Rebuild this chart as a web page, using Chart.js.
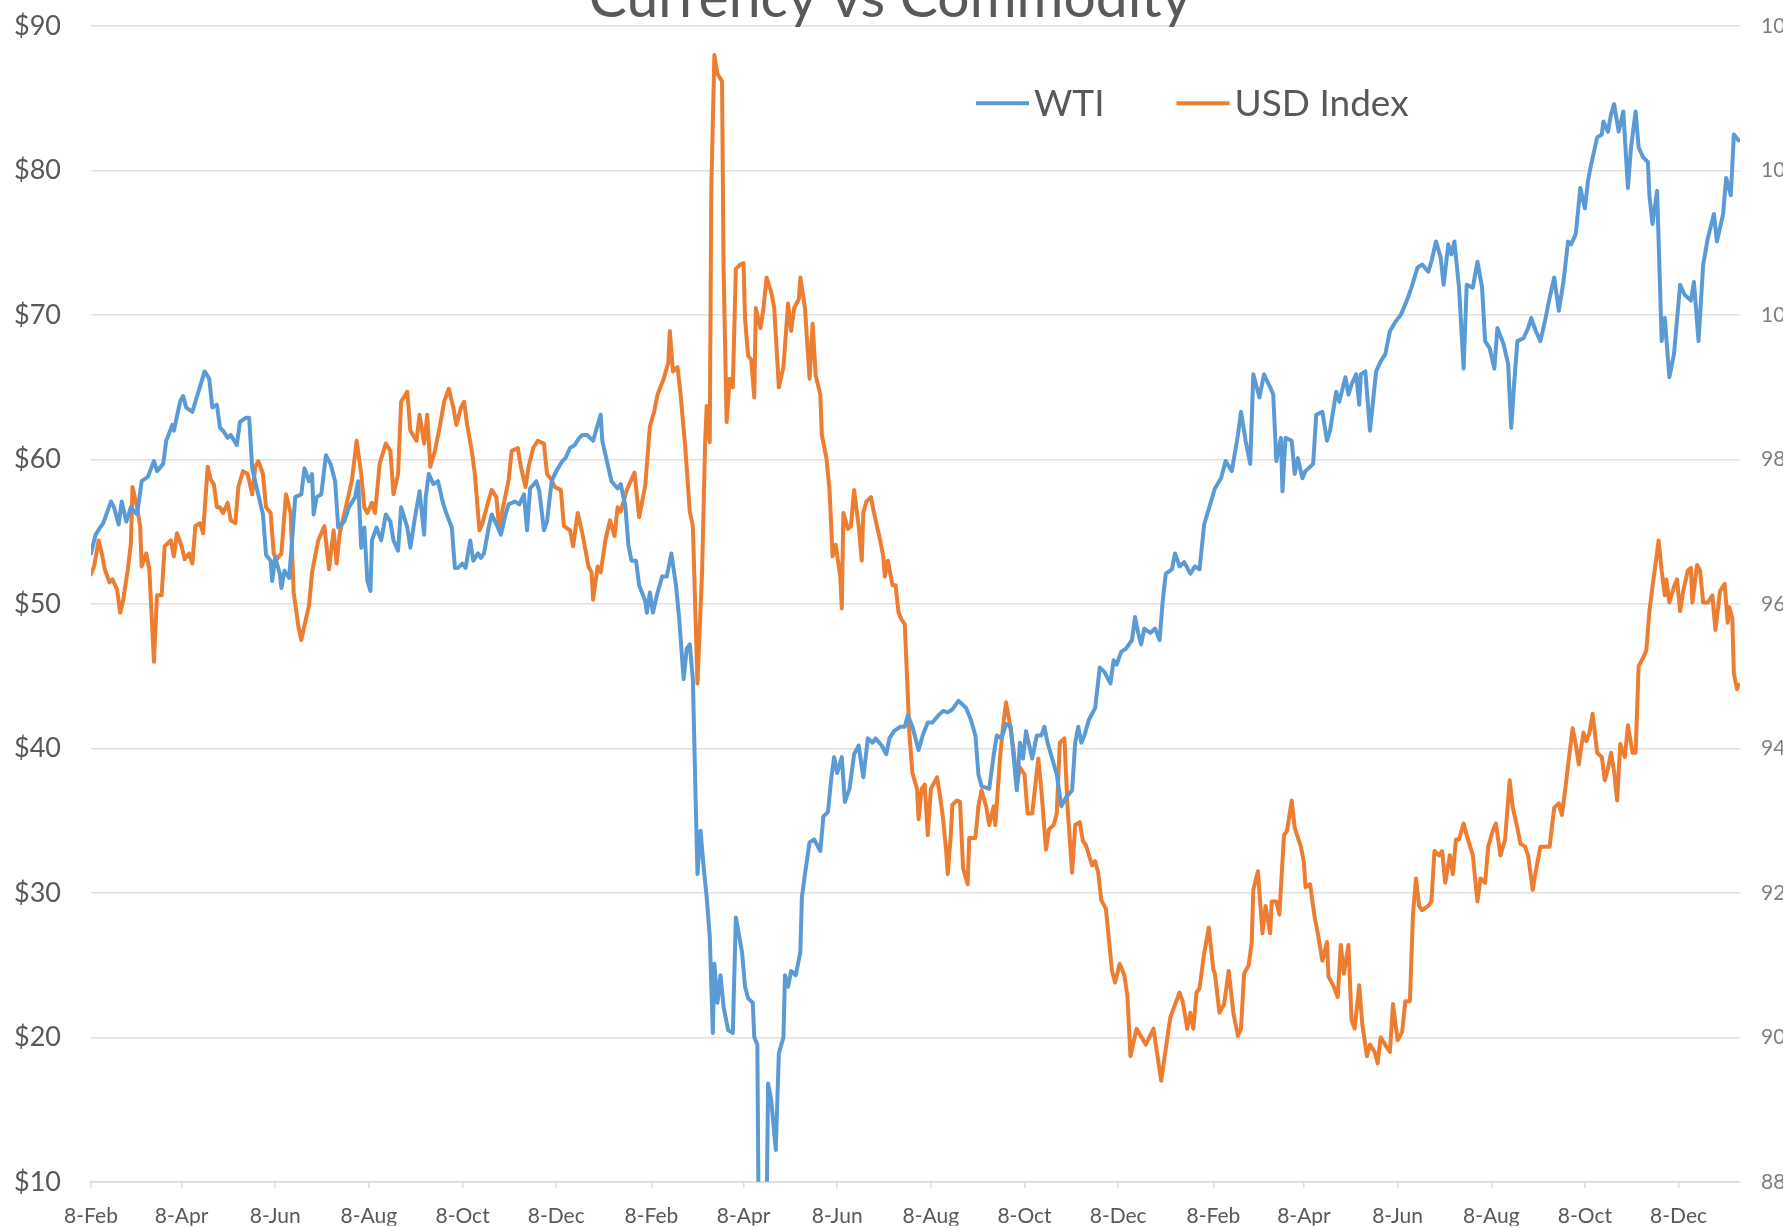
<!DOCTYPE html>
<html>
<head>
<meta charset="utf-8">
<script src="https://cdn.jsdelivr.net/npm/chart.js@4.4.1/dist/chart.umd.min.js"></script>
<style>
html,body{margin:0;padding:0;overflow:hidden;background:#ffffff;width:1783px;height:1228px;}
#wrap{position:absolute;left:-15px;top:-20px;width:1810px;height:1248px;}
canvas{display:block;}
</style>
</head>
<body>
<div id="wrap"><canvas id="c" width="1810" height="1248"></canvas></div>
<script>
// ---- axis categories (days since start date) ----
const startDate = '2019-02-08';
const tickDates = ['2019-02-08','2019-04-08','2019-06-08','2019-08-08','2019-10-08','2019-12-08',
                   '2020-02-08','2020-04-08','2020-06-08','2020-08-08','2020-10-08','2020-12-08',
                   '2021-02-08','2021-04-08','2021-06-08','2021-08-08','2021-10-08','2021-12-08'];
const tickLabels = ['8-Feb','8-Apr','8-Jun','8-Aug','8-Oct','8-Dec',
                    '8-Feb','8-Apr','8-Jun','8-Aug','8-Oct','8-Dec',
                    '8-Feb','8-Apr','8-Jun','8-Aug','8-Oct','8-Dec'];
const lastDay = 1074;

// ---- WTI ($/bbl), left axis ----
const wtiDays = [
0,3,6,8,13,15,18,20,23,26,
30,33,37,41,43,47,49,53,54,58,
60,62,66,68,72,74,77,79,82,84,
86,89,91,95,97,101,103,105,108,112,
114,117,118,120,123,124,126,129,131,133,
137,139,142,144,145,147,150,153,156,159,
161,165,168,172,174,176,178,180,182,183,
186,189,192,195,197,200,202,206,208,211,
214,217,218,220,223,226,229,231,235,237,
239,242,244,247,249,252,254,256,259,261,
265,267,270,272,276,279,282,284,286,290,
292,295,297,300,303,307,309,312,315,318,
320,323,325,327,330,332,333,336,339,343,
345,348,350,352,355,357,361,362,364,366,
369,372,375,378,381,383,386,388,390,392,
394,395,397,399,401,403,405,406,408,410,
412,415,418,420,424,426,428,431,432,434,
436,438,441,443,446,448,451,452,454,456,
459,462,463,465,468,471,475,477,480,482,
484,486,489,491,494,497,500,503,506,509,
511,515,518,520,523,527,530,532,535,539,
542,545,548,552,555,558,561,565,570,573,
576,578,580,585,588,590,593,596,599,603,
605,607,609,613,616,619,621,623,626,629,
632,635,639,641,643,645,647,650,654,657,
660,664,666,668,671,674,678,680,682,684,
686,690,693,696,698,700,704,706,709,712,
716,719,722,725,732,736,739,743,747,749,
752,755,757,761,764,768,770,772,775,776,
778,782,784,786,789,791,796,798,802,805,
807,811,813,817,819,821,824,826,827,830,
833,837,840,843,846,850,853,857,860,864,
867,871,873,876,879,881,884,886,888,891,
894,896,900,903,906,908,911,914,916,920,
923,925,927,929,933,936,938,941,944,947,
950,953,956,959,962,964,967,970,973,975,
977,981,984,985,988,990,992,995,998,1001,
1003,1006,1008,1011,1014,1015,1017,1020,1023,1025,
1028,1031,1035,1038,1042,1044,1047,1050,1053,1057,
1059,1063,1065,1068,1070,1073];
const wtiPrices = [
53.5,54.8,55.3,55.6,57.1,56.7,55.5,57.1,55.7,56.7,
56.2,58.5,58.8,59.9,59.2,59.7,61.3,62.4,62.0,64.0,
64.4,63.6,63.3,64.0,65.4,66.1,65.6,63.6,63.8,62.2,
62.0,61.5,61.7,61.0,62.6,62.9,62.9,59.4,58.0,56.2,
53.4,53.0,51.6,53.2,52.1,51.1,52.3,51.8,54.4,57.4,
57.6,59.4,58.5,59.0,56.2,57.4,57.6,60.3,59.7,58.5,
55.3,55.7,56.7,57.4,58.5,53.9,55.3,51.6,50.9,54.4,
55.3,54.4,56.2,55.7,54.4,53.7,56.7,55.3,53.9,56.0,
57.8,54.8,57.4,59.0,58.3,58.5,57.1,56.4,55.3,52.5,
52.5,52.8,52.5,54.4,53.0,53.5,53.2,53.5,55.3,56.2,
55.3,54.8,56.2,56.9,57.1,56.9,57.6,55.1,58.0,58.5,
57.8,55.1,55.7,58.5,59.2,59.9,60.1,60.8,61.0,61.5,
61.7,61.7,61.5,61.3,62.4,63.1,61.3,59.9,58.5,58.0,
58.3,56.8,54.1,53.0,53.0,51.3,50.2,49.4,50.8,49.4,
50.8,51.9,51.9,53.5,51.3,49.1,44.8,46.9,47.2,44.8,
35.6,31.3,34.3,31.8,29.7,27.0,20.3,25.1,22.4,24.3,
22.1,20.5,20.3,28.3,25.9,23.5,22.7,22.4,20.0,19.5,
-10,-10,16.8,15.7,12.2,18.9,20.0,24.3,23.5,24.6,
24.3,25.9,29.7,31.3,33.5,33.7,32.9,35.3,35.6,37.8,
39.4,38.3,39.4,36.3,37.2,39.6,40.2,38.0,40.7,40.4,
40.7,40.2,39.6,40.7,41.2,41.5,41.5,42.3,41.5,39.9,
41.0,41.8,41.8,42.3,42.6,42.5,42.7,43.3,42.8,42.0,
40.9,38.2,37.4,37.2,39.6,40.9,40.7,41.7,41.5,37.1,
40.4,39.3,41.2,39.3,40.9,40.9,41.5,40.4,39.3,38.2,
36.0,36.6,37.1,40.4,41.5,40.4,40.9,42.0,42.8,45.6,
45.3,44.5,46.1,45.8,46.7,46.9,47.5,49.1,48.0,47.2,
48.3,48.0,48.3,47.5,50.2,52.1,52.4,53.5,52.6,52.9,
52.1,52.6,52.4,55.5,58.0,58.7,59.9,59.2,61.7,63.3,
61.3,59.7,65.9,64.3,65.9,65.0,64.5,59.9,61.5,57.8,
61.5,61.3,59.0,60.1,58.7,59.2,59.7,63.1,63.3,61.3,
62.0,64.7,64.0,65.7,64.5,65.2,65.9,63.8,65.9,66.1,
62.0,66.1,66.8,67.3,68.9,69.6,70.0,71.0,71.9,73.3,
73.5,73.0,73.7,75.1,74.0,72.1,74.9,74.2,75.1,71.9,
66.3,72.1,71.9,73.7,71.9,68.2,67.7,66.3,69.1,68.0,
66.6,62.2,65.4,68.2,68.4,69.1,69.8,68.9,68.2,69.6,
71.2,72.6,70.3,72.3,75.1,74.9,75.6,78.8,77.4,79.3,
80.4,82.3,82.5,83.4,82.7,83.9,84.6,82.7,84.1,78.8,
81.6,84.1,81.6,80.9,80.6,78.3,76.3,78.6,68.2,69.8,
65.7,67.3,72.1,71.4,71.0,72.3,68.2,73.5,75.3,77.0,
75.1,77.0,79.5,78.3,82.5,82.1];

// ---- USD Index, right axis ----
const usdDays = [
0,2,5,7,9,12,14,17,19,21,
24,26,27,30,32,33,36,38,41,43,
46,48,52,54,56,59,61,64,66,68,
71,73,76,78,80,82,84,86,89,91,
94,96,99,102,105,107,109,112,114,117,
119,121,124,127,130,132,135,137,139,142,
144,148,152,155,158,160,162,166,170,173,
176,178,180,183,185,188,190,192,195,197,
200,202,206,208,212,214,217,219,221,224,
227,230,233,236,238,241,243,245,248,250,
253,255,259,261,264,266,268,272,274,278,
280,283,285,288,291,295,297,300,302,306,
308,312,314,317,320,324,326,327,330,332,
335,338,341,343,345,349,354,357,361,364,
367,369,373,376,377,379,382,384,387,390,
392,395,398,400,401,403,404,406,408,411,
412,414,416,418,420,423,425,426,428,430,
432,433,436,438,440,443,445,448,451,454,
456,458,461,462,465,468,470,472,475,476,
479,481,483,485,488,489,490,493,495,497,
500,502,503,505,508,510,514,516,517,519,
522,524,526,528,530,532,533,535,538,539,
541,543,545,547,551,553,555,557,558,560,
561,564,566,568,571,572,576,578,580,583,
585,588,589,592,594,596,598,601,603,605,
608,610,613,615,617,619,622,624,627,629,
631,634,636,639,641,644,646,648,652,654,
656,658,661,665,667,670,673,675,677,681,
687,692,697,703,709,711,714,716,718,720,
722,725,728,731,732,735,738,741,744,747,
749,751,754,756,757,760,763,765,768,769,
772,774,777,779,782,784,788,790,791,794,
797,799,802,805,806,809,812,814,816,819,
821,823,826,828,831,833,836,838,840,844,
846,848,851,854,856,859,861,863,865,867,
871,873,875,878,880,882,885,887,889,891,
894,896,900,903,905,908,910,913,915,918,
921,924,926,929,931,934,936,939,941,944,
947,950,953,956,958,960,963,965,967,969,
972,974,976,978,981,984,986,988,990,992,
994,996,999,1001,1004,1006,1008,1011,1013,1015,
1017,1019,1021,1023,1025,1026,1028,1031,1033,1035,
1037,1040,1042,1043,1046,1048,1050,1053,1056,1058,
1061,1064,1066,1067,1069,1070,1072,1073];
const usdValues = [
96.41,96.52,96.88,96.70,96.48,96.30,96.34,96.20,95.88,96.06,
96.48,96.84,97.62,97.34,97.08,96.52,96.70,96.48,95.20,96.12,
96.12,96.80,96.88,96.66,96.98,96.80,96.62,96.70,96.56,97.08,
97.12,96.98,97.90,97.72,97.66,97.34,97.34,97.26,97.40,97.16,
97.12,97.62,97.84,97.80,97.52,97.90,97.98,97.80,97.34,97.26,
96.70,96.62,96.70,97.52,97.26,96.16,95.70,95.50,95.70,95.98,
96.44,96.88,97.08,96.48,97.02,96.56,96.98,97.34,97.72,98.26,
97.80,97.34,97.26,97.40,97.26,97.94,98.08,98.22,98.12,97.52,
97.80,98.80,98.94,98.40,98.26,98.62,98.22,98.62,97.90,98.12,
98.44,98.80,98.98,98.72,98.48,98.72,98.80,98.48,98.12,97.80,
97.02,97.12,97.44,97.58,97.48,97.02,97.30,97.72,98.12,98.16,
97.90,97.62,97.90,98.16,98.26,98.22,97.80,97.72,97.62,97.58,
97.08,97.02,96.80,97.26,96.98,96.52,96.44,96.06,96.52,96.44,
96.88,97.16,96.94,97.34,97.28,97.58,97.82,97.20,97.64,98.46,
98.68,98.90,99.12,99.34,99.78,99.22,99.28,98.90,98.18,97.28,
97.08,94.90,96.44,98.24,98.74,98.24,101.74,103.60,103.34,103.24,
100.64,98.52,99.12,99.00,100.64,100.70,100.72,99.94,99.44,99.38,
98.86,100.10,99.82,100.10,100.52,100.32,100.10,99.00,99.28,100.16,
99.78,100.10,100.22,100.52,100.10,99.12,99.88,99.16,98.90,98.34,
98.02,97.58,96.66,96.82,96.38,95.94,97.26,97.04,97.08,97.58,
97.08,96.60,97.26,97.42,97.48,97.26,96.88,96.66,96.38,96.60,
96.26,96.26,95.88,95.78,95.72,94.74,94.20,93.66,93.44,93.02,
93.44,93.50,92.80,93.44,93.60,93.34,93.02,92.58,92.26,92.80,
93.22,93.28,93.26,92.34,92.12,92.76,92.76,93.20,93.42,93.20,
92.94,93.20,92.94,93.86,94.30,94.64,94.40,93.96,93.48,93.74,
93.64,93.10,93.10,93.48,93.86,93.42,92.60,92.88,92.94,93.10,
94.08,94.14,93.20,92.28,92.94,92.98,92.72,92.66,92.38,92.44,
92.28,91.90,91.78,90.92,90.76,91.02,90.86,90.58,89.74,90.12,
89.90,90.12,89.40,90.28,90.62,90.50,90.12,90.34,90.12,90.62,
90.68,91.16,91.52,90.94,90.88,90.34,90.46,90.92,90.34,90.02,
90.12,90.88,91.00,91.32,92.04,92.30,91.44,91.82,91.44,91.88,
91.88,91.70,92.80,92.86,93.28,92.90,92.64,92.42,92.08,92.12,
91.66,91.44,91.06,91.32,90.84,90.72,90.56,91.28,90.88,91.28,
90.24,90.12,90.72,90.18,89.74,89.90,89.80,89.64,90.00,89.86,
89.80,90.46,89.96,90.08,90.50,90.50,91.70,92.20,91.82,91.76,
91.82,91.88,92.58,92.52,92.58,92.14,92.52,92.26,92.74,92.74,
92.96,92.80,92.52,91.88,92.20,92.14,92.64,92.86,92.96,92.52,
92.74,93.56,93.18,92.90,92.68,92.64,92.52,92.04,92.30,92.64,
92.64,92.64,93.18,93.24,93.08,93.40,93.94,94.28,94.06,93.78,
94.22,94.10,94.22,94.48,93.94,93.88,93.56,93.72,93.94,93.68,
93.28,94.06,93.88,94.32,93.94,93.94,95.14,95.26,95.36,95.90,
96.24,96.56,96.88,96.46,96.12,96.34,96.02,96.24,96.34,95.90,
96.18,96.46,96.50,96.02,96.54,96.46,96.02,96.02,96.12,95.64,
96.18,96.28,95.74,95.96,95.80,95.04,94.82,94.88];

// ---- build ----
const dayOf = s => Math.round((Date.parse(s) - Date.parse(startDate)) / 86400000);
const tickDays = tickDates.map(dayOf);
const toPoints = (xs, ys) => xs.map((d, i) => ({x: d, y: ys[i]}));

const BLUE = '#5B9BD5', ORANGE = '#ED7D31', TEXT = '#595959', GRID = '#e0e0e0';

const legendPlugin = {
  id: 'insideLegend',
  afterDraw(chart) {
    const {ctx, chartArea} = chart;
    ctx.save();
    ctx.font = '37px Lato';
    ctx.textBaseline = 'middle';
    let x = chartArea.left + 885;
    const y = chartArea.top + 77;
    chart.data.datasets.forEach(ds => {
      ctx.strokeStyle = ds.borderColor;
      ctx.lineWidth = 4;
      ctx.beginPath();
      ctx.moveTo(x, y);
      ctx.lineTo(x + 53, y);
      ctx.stroke();
      ctx.fillStyle = TEXT;
      ctx.fillText(ds.label, x + 58, y + 1);
      x += 58 + ctx.measureText(ds.label).width + 72;
    });
    ctx.restore();
  }
};

new Chart(document.getElementById('c'), {
  type: 'line',
  data: {
    datasets: [
      {label: 'WTI', data: toPoints(wtiDays, wtiPrices), yAxisID: 'y',
       borderColor: BLUE, borderWidth: 4, pointRadius: 0, tension: 0,
       borderJoinStyle: 'round', borderCapStyle: 'round'},
      {label: 'USD Index', data: toPoints(usdDays, usdValues), yAxisID: 'y1',
       borderColor: ORANGE, borderWidth: 4, pointRadius: 0, tension: 0,
       borderJoinStyle: 'round', borderCapStyle: 'round'}
    ]
  },
  options: {
    responsive: false,
    animation: false,
    devicePixelRatio: 1,
    layout: {padding: 0},
    plugins: {
      legend: {display: false},
      tooltip: {enabled: false},
      title: {
        display: true, text: 'Currency vs Commodity', color: TEXT,
        font: {family: 'Lato', size: 57, weight: '400', lineHeight: 0.1},
        padding: {top: 12.5, bottom: 24.8}
      }
    },
    scales: {
      x: {
        type: 'linear', min: 0, max: lastDay,
        afterBuildTicks: s => { s.ticks = tickDays.map(v => ({value: v})); },
        afterFit: s => { s.height = 44; },
        ticks: {callback: (v, i) => tickLabels[i], autoSkip: false, maxRotation: 0, minRotation: 0,
                padding: 16, color: TEXT, font: {family: 'Lato', size: 21}},
        grid: {display: true, drawOnChartArea: false, drawTicks: true, tickLength: 6, color: '#d9d9d9', lineWidth: 1.5},
        border: {display: true, color: '#d9d9d9', width: 1.5}
      },
      y: {
        position: 'left', min: 10, max: 90,
        afterFit: s => { s.width = 106; },
        ticks: {stepSize: 10, callback: v => '$' + v, padding: 30, color: TEXT, font: {family: 'Lato', size: 27}},
        grid: {color: GRID, lineWidth: 1.5, drawTicks: false},
        border: {display: false}
      },
      y1: {
        position: 'right', min: 88, max: 104,
        afterFit: s => { s.width = 55; },
        ticks: {stepSize: 2, padding: 21, color: '#7f7f7f', font: {family: 'Lato', size: 21}},
        grid: {display: false, drawTicks: false},
        border: {display: false}
      }
    }
  },
  plugins: [legendPlugin]
});
</script>
</body>
</html>
